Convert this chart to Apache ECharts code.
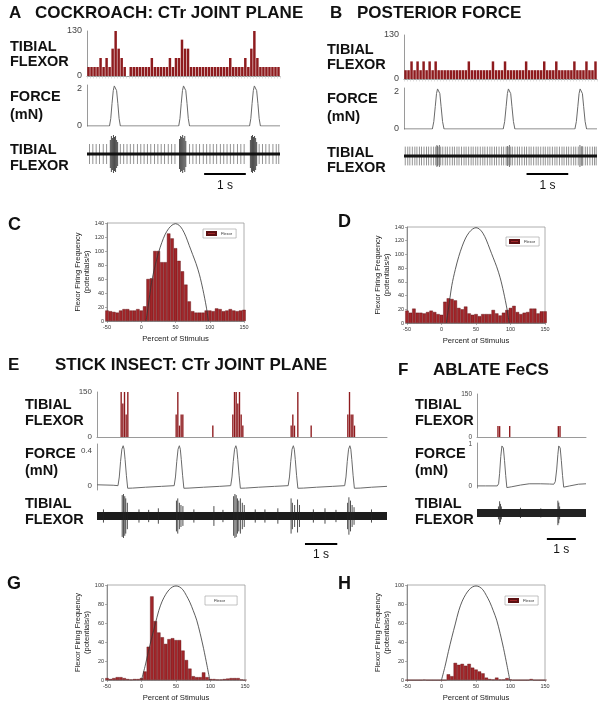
<!DOCTYPE html>
<html><head><meta charset="utf-8">
<script src="https://cdn.jsdelivr.net/npm/echarts@6/dist/echarts.min.js"></script>
<style>html,body{margin:0;padding:0;background:#fff}#c{width:604px;height:711px}</style>
</head><body><div id="c"></div>
<script>
const FONT = "'Liberation Sans', Arial, Helvetica, sans-serif";

// ================= PANEL A : cockroach, CTr joint plane =================
const spanA = 4.63;                       // seconds shown
const histA = [26,26,26,26,52,26,52,26,79,130,79,52,26,0,
  26,26,26,26,26,26,26,52,26,26,26,26,26,52,26,52,52,105,79,79,26,
  26,26,26,26,26,26,26,26,26,26,26,26,52,26,26,26,26,52,26,79,130,52,26,26,26,26,26,26,26];
const histATicks = [0, 130];
const forceA = [[0,0],[0.54,0],[0.57,0.4],[0.60,1.2],[0.63,1.9],[0.655,2.15],[0.67,2.2],[0.685,2.15],[0.71,1.9],[0.74,1.2],[0.77,0.4],[0.80,0],
  [2.20,0],[2.23,0.4],[2.26,1.2],[2.29,1.9],[2.315,2.15],[2.33,2.2],[2.345,2.15],[2.37,1.9],[2.40,1.2],[2.43,0.4],[2.46,0],
  [3.90,0],[3.93,0.4],[3.96,1.2],[3.99,1.9],[4.015,2.15],[4.03,2.2],[4.045,2.15],[4.07,1.9],[4.10,1.2],[4.13,0.4],[4.16,0],[4.63,0]];
const forceATicks = [0, 2];
const spikesA = [0.06,0.14,0.22,0.30,0.39,0.47,0.80,0.88,0.96,1.04,1.12,1.21,1.29,1.37,1.45,1.53,1.62,1.70,1.78,1.86,1.95,2.03,2.11,
  2.46,2.54,2.62,2.70,2.79,2.87,2.95,3.03,3.11,3.20,3.28,3.36,3.44,3.52,3.61,3.69,3.77,4.13,4.21,4.29,4.37,4.46,4.54,4.60];
const burstsA = [[0.56,0.7],[0.585,0.9],[0.61,0.8],[0.635,0.95],[0.66,0.85],[0.685,0.9],[0.71,0.7],[0.735,0.6],
  [2.22,0.75],[2.245,0.9],[2.27,0.85],[2.295,0.95],[2.32,0.8],[2.345,0.9],[2.37,0.65],
  [3.92,0.7],[3.945,0.9],[3.97,0.95],[3.995,0.85],[4.02,0.9],[4.045,0.8],[4.07,0.6]];
const spikeAmpA = 0.5;
const scaleBarA = 2.81;

// ================= PANEL B : posterior force =================
const spanB = 4.63;
const histB = [26,26,52,26,52,26,52,26,52,26,52,26,26,26,26,26,26,26,26,26,26,52,26,26,26,26,26,26,26,52,26,26,26,52,
  26,26,26,26,26,26,52,26,26,26,26,26,52,26,26,26,52,26,26,26,26,26,52,26,26,26,52,26,26,52];
const histBTicks = [0, 130];
const forceB = [[0,0],[0.68,0],[0.715,0.4],[0.75,1.2],[0.78,1.9],[0.805,2.15],[0.82,2.2],[0.835,2.15],[0.86,1.9],[0.89,1.2],[0.925,0.4],[0.96,0],
  [2.38,0],[2.415,0.4],[2.45,1.2],[2.48,1.9],[2.505,2.15],[2.52,2.2],[2.535,2.15],[2.56,1.9],[2.59,1.2],[2.625,0.4],[2.66,0],
  [4.10,0],[4.135,0.4],[4.17,1.2],[4.20,1.9],[4.225,2.15],[4.24,2.2],[4.255,2.15],[4.28,1.9],[4.31,1.2],[4.345,0.4],[4.38,0],[4.63,0]];
const forceBTicks = [0, 2];
const spikesB = [0.03,0.09,0.14,0.20,0.26,0.31,0.37,0.42,0.48,0.54,0.59,0.65,0.71,0.76,0.82,0.88,0.93,0.99,1.04,1.10,1.16,1.21,1.27,
  1.32,1.38,1.44,1.49,1.55,1.61,1.66,1.72,1.77,1.83,1.89,1.94,2.00,2.06,2.11,2.17,2.22,2.28,2.34,2.39,2.45,2.50,2.56,2.60,2.66,
  2.72,2.77,2.83,2.89,2.94,3.00,3.05,3.11,3.17,3.22,3.28,3.34,3.39,3.45,3.50,3.56,3.62,3.67,3.73,3.79,3.84,3.90,3.95,4.01,4.07,
  4.12,4.18,4.25,4.29,4.35,4.40,4.46,4.52,4.57,4.61];
const burstsB = [[0.79,0.55],[0.80,0.5],[0.85,0.55],[2.48,0.5],[2.53,0.55],[4.22,0.55],[4.27,0.5]];
const spikeAmpB = 0.47;
const scaleBarB = 2.94;

// ================= PANELS C, D, G, H : firing vs percent of stimulus =================
const binCenters = [-50,-45,-40,-35,-30,-25,-20,-15,-10,-5,0,5,10,15,20,25,30,35,40,45,50,55,60,65,70,75,80,85,90,95,100,105,110,115,120,125,130,135,140,145,150];
const flexorC = [15,14,13,12,15,17,17,15,15,17,15,21,60,61,100,100,84,84,125,118,104,86,71,52,28,14,12,12,12,15,15,14,18,17,14,15,17,15,14,15,16];
const flexorD = [18,15,21,15,15,14,16,18,16,13,12,31,36,35,33,22,20,24,14,12,13,10,13,13,13,19,14,11,15,19,22,25,16,13,15,16,21,21,14,17,17];
const flexorG = [2,1,2,3,3,2,1,0.5,1,1,2,9,35,88,62,50,45,38,43,44,42,42,31,21,12,4,3,3,8,3,1,1,0.5,0.5,1,1.5,2,2,2,0.5,0];
const flexorH = [0,0,0,0,0,0.3,0,0,0,0,0,0,6,4,18,16,17,15,17,13,11,9,7,2.5,1,0.5,2.5,0.5,0.5,2,0.5,0,0,0,0,0,1,0,0,0,0];
const stimCD = [[7,0],[10,20],[15,55],[20,78],[25,97],[30,112],[35,124],[40,132],[45,137],[50,139],[55,137],[60,131],[65,121],[70,108],[75,95],[80,82],[85,66],[90,45],[95,20],[98,0]];
const stimGH = [[0,0],[5,14],[10,30],[15,45],[20,59],[25,73],[30,83],[35,90],[40,95],[45,98],[50,99],[55,98],[60,95],[65,89],[70,82],[75,73],[80,63],[85,49],[90,33],[95,15],[99,0]];
const percentTicks = [-50, 0, 50, 100, 150];
const freqTicksCD = [0,20,40,60,80,100,120,140];
const freqTicksGH = [0,20,40,60,80,100];

// ================= PANEL E : stick insect =================
const spanE = 8.98;
const histEBins = 174;
const histEEvents = [[14,150],[15,112],[16,150],[17,75],[18,150],[47,75],[48,150],[49,38],[50,75],[51,75],[69,38],
  [81,75],[82,150],[83,150],[84,112],[85,150],[86,75],[87,38],[116,38],[117,75],[118,38],[120,150],[128,38],
  [150,75],[151,150],[152,75],[153,75],[154,38]];
const histETicks = [0, 150];
const forceE = [[0,0.01],[0.5,0.005],[0.65,0],[0.69,0.1],[0.73,0.28],[0.77,0.42],[0.81,0.46],[0.84,0.42],[0.87,0.3],[0.91,0.12],[0.95,-0.03],[1.1,-0.028],[1.5,-0.018],[2.0,-0.008],[2.39,0],
  [2.43,0.1],[2.47,0.28],[2.51,0.42],[2.55,0.46],[2.58,0.42],[2.61,0.3],[2.65,0.12],[2.69,-0.03],[2.85,-0.028],[3.3,-0.018],[3.8,-0.008],[4.14,0],
  [4.18,0.1],[4.22,0.28],[4.26,0.42],[4.30,0.46],[4.33,0.42],[4.36,0.3],[4.40,0.12],[4.44,-0.03],[4.6,-0.028],[5.0,-0.018],[5.5,-0.008],[5.92,0],
  [5.96,0.1],[6.00,0.28],[6.04,0.42],[6.08,0.46],[6.11,0.42],[6.14,0.3],[6.18,0.12],[6.22,-0.03],[6.4,-0.028],[6.8,-0.018],[7.3,-0.008],[7.67,0],
  [7.71,0.1],[7.75,0.28],[7.79,0.42],[7.83,0.46],[7.86,0.42],[7.89,0.3],[7.93,0.12],[7.97,-0.03],[8.15,-0.028],[8.5,-0.018],[8.98,-0.008]];
const forceETicks = [0, 0.4];
const spikesE = [[0.2,0.3],[0.78,0.95],[0.82,1.0],[0.86,0.9],[0.89,0.8],[0.94,0.6],[1.3,0.3],[1.6,0.28],[1.9,0.35],[2.46,0.7],[2.50,0.8],[2.55,0.6],[2.60,0.5],[2.66,0.45],
  [3.0,0.3],[3.62,0.45],[3.9,0.28],[4.23,0.9],[4.27,1.0],[4.31,0.95],[4.35,0.8],[4.39,0.7],[4.44,0.8],[4.50,0.6],[4.56,0.5],[4.9,0.3],[5.2,0.3],[5.6,0.35],
  [6.01,0.8],[6.05,0.6],[6.12,0.5],[6.21,0.75],[6.27,0.5],[6.7,0.3],[7.06,0.35],[7.4,0.28],[7.76,0.6],[7.80,0.85],[7.85,0.7],[7.90,0.5],[7.96,0.4],[8.5,0.3]];
const scaleBarE = 6.44;

// ================= PANEL F : ablate FeCS =================
const spanF = 3.76;
const histFBins = 65;
const histFEvents = [[12,38],[13,38],[19,38],[48,38],[49,38]];
const histFTicks = [0, 150];
const forceF = [[0,0],[0.3,0],[0.70,0],[0.745,0.05],[0.78,0.3],[0.82,0.7],[0.86,0.95],[0.88,0.98],[0.91,0.9],[0.95,0.6],[0.99,0.25],[1.03,-0.04],
  [1.2,-0.02],[1.5,0.02],[1.8,0.05],[2.2,0.05],[2.5,0.045],[2.65,0.04],[2.70,0.1],[2.75,0.4],[2.79,0.75],[2.82,0.95],[2.84,0.98],[2.87,0.9],
  [2.91,0.6],[2.95,0.25],[2.99,-0.03],[3.2,0.0],[3.5,0.04],[3.76,0.05]];
const forceFTicks = [0, 1];
const spikesF = [[0.74,0.5],[0.78,0.9],[0.81,0.7],[0.84,0.5],[1.5,0.4],[2.2,0.35],[2.79,0.95],[2.82,0.8],[2.85,0.5]];
const scaleBarF = 2.41;

// ================= BUILD =================
const grid = [], xAxis = [], yAxis = [], series = [], legend = [], graphic = [];
const HIST_RED = '#8e1b1e';

function addGrid(left, top, width, height, extra) {
  grid.push(Object.assign({ left, top, width, height, containLabel: false }, extra || {}));
  return grid.length - 1;
}
function pushAxes(x, y) { xAxis.push(x); yAxis.push(y); return [xAxis.length - 1, yAxis.length - 1]; }

function rasterHist(box, counts, ticks, fs, showTicks) {
  const g = addGrid(...box);
  const [xi, yi] = pushAxes(
    { gridIndex: g, type: 'category', data: counts.map((_, i) => i), boundaryGap: true,
      axisLine: { show: true, onZero: false, lineStyle: { color: '#9a9a9a', width: 1 } },
      axisTick: { show: showTicks, interval: 0, length: 2.5, lineStyle: { color: '#c9c9c9', width: 0.6 } },
      axisLabel: { show: false }, splitLine: { show: false } },
    { gridIndex: g, type: 'value', min: ticks[0], max: ticks[ticks.length - 1],
      axisLine: { show: true, onZero: false, lineStyle: { color: '#9a9a9a', width: 1 } },
      axisTick: { show: false }, splitLine: { show: false },
      axisLabel: { customValues: ticks, fontSize: fs, color: '#444', margin: 5, fontFamily: FONT } });
  series.push({ type: 'bar', xAxisIndex: xi, yAxisIndex: yi, data: counts, barCategoryGap: '18%',
    itemStyle: { color: HIST_RED }, silent: true });
}
function sparseToCounts(n, events) {
  const arr = new Array(n).fill(0);
  events.forEach(([i, v]) => { arr[i] = v; });
  return arr;
}
function forcePlot(box, pts, span, yMin, yMax, ticks, fs) {
  const g = addGrid(...box);
  const [xi, yi] = pushAxes(
    { gridIndex: g, type: 'value', min: 0, max: span, show: false },
    { gridIndex: g, type: 'value', min: yMin, max: yMax,
      axisLine: { show: true, onZero: false, lineStyle: { color: '#9a9a9a', width: 1 } },
      axisTick: { show: false }, splitLine: { show: false },
      axisLabel: { customValues: ticks, fontSize: fs, color: '#444', margin: 5, fontFamily: FONT } });
  series.push({ type: 'line', xAxisIndex: xi, yAxisIndex: yi, data: pts, symbol: 'none',
    lineStyle: { color: '#6a6a6a', width: 1 }, silent: true });
}
function spikeSeries(xi, yi, spikes, color, width, z) {
  return {
    type: 'custom', xAxisIndex: xi, yAxisIndex: yi, data: spikes, silent: true,
    encode: { x: 0, y: 1 }, z,
    renderItem: (params, api) => {
      const t = api.value(0), a = api.value(1);
      const p1 = api.coord([t, a]), p2 = api.coord([t, -a]);
      return { type: 'line', shape: { x1: p1[0], y1: p1[1], x2: p2[0], y2: p2[1] },
        style: { stroke: color, lineWidth: width } };
    }
  };
}
function tracePlot(box, span, yMin, spikeSets, bandWidth, bandColor, scaleT0, scaleY, labelGap) {
  const g = addGrid(...box);
  const [xi, yi] = pushAxes(
    { gridIndex: g, type: 'value', min: 0, max: span, show: false },
    { gridIndex: g, type: 'value', min: yMin, max: 1, show: false });
  spikeSets.forEach(s => series.push(spikeSeries(xi, yi, s.data, s.color, s.width, s.z)));
  series.push({
    type: 'line', xAxisIndex: xi, yAxisIndex: yi, data: [[0, 0], [span, 0]], symbol: 'none', silent: true,
    z: 3, lineStyle: { color: bandColor, width: bandWidth },
    markLine: { silent: true, symbol: ['none', 'none'], animation: false,
      lineStyle: { color: '#000', width: 2, type: 'solid' },
      label: { show: true, formatter: '1 s', position: 'insideMiddleBottom', fontSize: 12, color: '#111', fontFamily: FONT, distance: labelGap },
      data: [[{ coord: [scaleT0, scaleY] }, { coord: [scaleT0 + 1, scaleY] }]] }
  });
}
function stimPlot(box, vals, stim, freqTicks, leg, swatch) {
  const g = addGrid(...box, { show: true, borderColor: '#9a9a9a', borderWidth: 0.8 });
  const axisCommon = {
    axisLine: { show: true, onZero: false, lineStyle: { color: '#7a7a7a', width: 0.8 } },
    axisTick: { show: true, length: 2, lineStyle: { color: '#7a7a7a', width: 0.6 } },
    axisLabel: { fontSize: 5.5, color: '#333', margin: 3, fontFamily: FONT },
    splitLine: { show: false }
  };
  const [xi, yi] = pushAxes(
    Object.assign({ gridIndex: g, type: 'value', min: percentTicks[0], max: percentTicks[percentTicks.length - 1],
      interval: percentTicks[1] - percentTicks[0], name: 'Percent of Stimulus', nameLocation: 'middle', nameGap: 14,
      nameTextStyle: { fontSize: 7.7, color: '#222', fontFamily: FONT } }, axisCommon),
    Object.assign({ gridIndex: g, type: 'value', min: freqTicks[0], max: freqTicks[freqTicks.length - 1],
      interval: freqTicks[1] - freqTicks[0], name: 'Flexor Firing Frequency\n(potentials/s)', nameLocation: 'middle',
      nameRotate: 90, nameGap: 13,
      nameTextStyle: { fontSize: 7.5, lineHeight: 8.5, color: '#222', fontFamily: FONT } }, axisCommon));
  series.push({ type: 'bar', name: 'Flexor', xAxisIndex: xi, yAxisIndex: yi, clip: true,
    data: binCenters.map((c, i) => [c, vals[i]]), barWidth: box[2] / 40,
    itemStyle: { color: '#a1262a', borderColor: '#5c1012', borderWidth: 0.4 }, silent: true });
  series.push({ type: 'line', name: 'stimulus', xAxisIndex: xi, yAxisIndex: yi, data: stim, smooth: 0.3,
    symbol: 'none', lineStyle: { color: '#333', width: 0.8 }, silent: true, z: 3 });
  legend.push({ left: leg[0], top: leg[1], selectedMode: false, icon: 'rect',
    itemWidth: swatch ? 9 : 0, itemHeight: 3, padding: swatch ? [2, 4, 2, 3] : [2, 12, 2, 3],
    borderColor: '#9a9a9a', borderWidth: 0.6, backgroundColor: '#fff',
    textStyle: { fontSize: 4, color: '#333', fontFamily: FONT },
    data: [{ name: 'Flexor', itemStyle: swatch ? undefined : { opacity: 0 } }] });
}

// Panel A
rasterHist([87, 31, 193, 45], histA, histATicks, 9, true);
forcePlot([87, 85, 193, 41], forceA, spanA, 0, 2.2, forceATicks, 9);
tracePlot([87, 134, 193, 42], spanA, -1.1, [
  { data: spikesA.map(t => [t, spikeAmpA]), color: '#777', width: 0.8, z: 2 },
  { data: burstsA, color: '#3a3a3a', width: 0.9, z: 2 }], 3, '#111', scaleBarA, -1, 6);
// Panel B
rasterHist([404, 35, 193, 44], histB, histBTicks, 9, true);
forcePlot([404, 88, 193, 41], forceB, spanB, 0, 2.2, forceBTicks, 9);
tracePlot([404, 136, 193, 42], spanB, -1.1, [
  { data: spikesB.map(t => [t, spikeAmpB]), color: '#777', width: 0.8, z: 2 },
  { data: burstsB, color: '#555', width: 0.8, z: 2 }], 3, '#111', scaleBarB, -0.9, 6);
// Panels C, D
stimPlot([107, 223, 137, 98], flexorC, stimCD, freqTicksCD, [203, 229], true);
stimPlot([407, 227, 138, 96], flexorD, stimCD, freqTicksCD, [506, 237], true);
// Panel E
rasterHist([97, 392, 290, 45], sparseToCounts(histEBins, histEEvents), histETicks, 8, false);
forcePlot([97, 444, 290, 46], forceE, spanE, -0.05, 0.48, forceETicks, 8);
tracePlot([97, 494, 290, 52], spanE, -1.364, [{ data: spikesE, color: '#222', width: 0.8, z: 4 }],
  8, '#1c1c1c', scaleBarE, -1.27, 5);
// Panel F
rasterHist([477, 394, 109, 43], sparseToCounts(histFBins, histFEvents), histFTicks, 6.5, false);
forcePlot([477, 443, 109, 45], forceF, spanF, -0.05, 1.02, forceFTicks, 6.5);
tracePlot([477, 500, 109, 40], spanF, -2.1, [{ data: spikesF, color: '#222', width: 0.8, z: 4 }],
  8, '#222', scaleBarF, -1.97, 5);
// Panels G, H
stimPlot([107, 585, 138, 95], flexorG, stimGH, freqTicksGH, [205, 596], false);
stimPlot([407, 585, 138, 95], flexorH, stimGH, freqTicksGH, [505, 596], true);

// ---- text labels ----
const B15 = 14.5;
const textItems = [
  ['A', 9, 13, 17, 'bold'], ['COCKROACH: CTr JOINT PLANE', 35, 13, 17, 'bold'],
  ['B', 330, 13, 17, 'bold'], ['POSTERIOR FORCE', 357, 13, 17, 'bold'],
  ['TIBIAL', 10, 47, B15, 'bold'], ['FLEXOR', 10, 62, B15, 'bold'], ['FORCE', 10, 97, B15, 'bold'],
  ['(mN)', 10, 115, B15, 'bold'], ['TIBIAL', 10, 149.5, B15, 'bold'], ['FLEXOR', 10, 166, B15, 'bold'],
  ['TIBIAL', 327, 49.5, B15, 'bold'], ['FLEXOR', 327, 65, B15, 'bold'], ['FORCE', 327, 99, B15, 'bold'],
  ['(mN)', 327, 117, B15, 'bold'], ['TIBIAL', 327, 152.5, B15, 'bold'], ['FLEXOR', 327, 168, B15, 'bold'],
  ['C', 8, 225, 18, 'bold'], ['D', 338, 222, 18, 'bold'],
  ['E', 8, 365, 17, 'bold'], ['STICK INSECT: CTr JOINT PLANE', 55, 365, 17, 'bold'],
  ['F', 398, 370, 17, 'bold'], ['ABLATE FeCS', 433, 370, 17, 'bold'],
  ['TIBIAL', 25, 405, B15, 'bold'], ['FLEXOR', 25, 421, B15, 'bold'], ['FORCE', 25, 454, B15, 'bold'],
  ['(mN)', 25, 470.5, B15, 'bold'], ['TIBIAL', 25, 503.5, B15, 'bold'], ['FLEXOR', 25, 519.5, B15, 'bold'],
  ['TIBIAL', 415, 405, B15, 'bold'], ['FLEXOR', 415, 421, B15, 'bold'], ['FORCE', 415, 454, B15, 'bold'],
  ['(mN)', 415, 470.5, B15, 'bold'], ['TIBIAL', 415, 504, B15, 'bold'], ['FLEXOR', 415, 519.5, B15, 'bold'],
  ['G', 7, 584, 18, 'bold'], ['H', 338, 584, 18, 'bold']
];
textItems.forEach(([t, x, y, s, w]) => graphic.push({
  type: 'text', x, y, silent: true,
  style: { text: t, fontSize: s, fontWeight: w, fontFamily: FONT, fill: '#111', align: 'left', verticalAlign: 'middle' }
}));

const chart = echarts.init(document.getElementById('c'), null, { renderer: 'canvas', width: 604, height: 711 });
chart.setOption({
  animation: false, backgroundColor: '#fff', textStyle: { fontFamily: FONT },
  grid, xAxis, yAxis, series, legend, graphic
});
</script></body></html>
